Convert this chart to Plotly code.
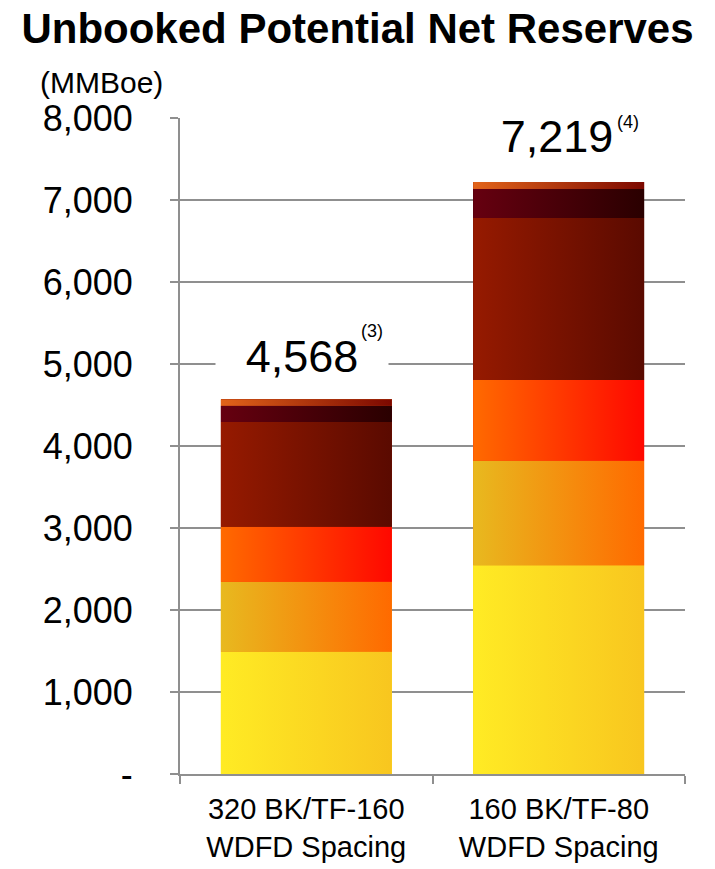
import plotly.graph_objects as go

# ---------------- data ----------------
categories = ["320 BK/TF-160<br>WDFD Spacing", "160 BK/TF-80<br>WDFD Spacing"]
seg1 = [1491, 2544]
seg2 = [854, 1277]
seg3 = [671, 984]
seg4 = [1277, 1975]
seg5 = [198, 354]
seg6 = [77, 85]
totals = [4568, 7219]
footnotes = ["(3)", "(4)"]
y_tick_values = [0, 1000, 2000, 3000, 4000, 5000, 6000, 7000, 8000]
y_tick_labels = ["-", "1,000", "2,000", "3,000", "4,000", "5,000", "6,000", "7,000", "8,000"]

# ---------------- style ----------------
segments = [seg1, seg2, seg3, seg4, seg5, seg6]
gradients = [
    ("#FFEB24", "#F8C61F"),
    ("#E8B91F", "#FF6A00"),
    ("#FF6A00", "#FF0800"),
    ("#961A00", "#5A0A00"),
    ("#660010", "#2A0000"),
    ("#E2641A", "#7C0800"),
]
mid_colors = ["#FBD922", "#F3920F", "#FF3900", "#781200", "#480008", "#AF360D"]
bar_width = 0.677
FONT = "Arial, Liberation Sans, sans-serif"
GRID = "#8f8f8f"

total_yshift = [43, 46]
total_xshift = [-4, -2]
total_box_w = [170, 240]
note_xshift = [53, 56]
note_yshift = [68, 60]

fig = go.Figure()

# stacked bars (data marks)
for seg, col in zip(segments, mid_colors):
    fig.add_trace(go.Bar(
        x=categories, y=seg, width=bar_width,
        marker=dict(color=col, line=dict(width=0)),
        showlegend=False, hoverinfo="y",
    ))

# gradient skin over the same bars, computed from the same arrays
bases = [0] * len(categories)
for seg, (c0, c1) in zip(segments, gradients):
    for i in range(len(categories)):
        b = bases[i]
        t = b + seg[i]
        x0 = i - bar_width / 2
        x1 = i + bar_width / 2
        fig.add_trace(go.Scatter(
            x=[x0, x1, x1, x0, x0], y=[b, b, t, t, b],
            xaxis="x2", mode="lines", fill="toself",
            fillgradient=dict(type="horizontal", colorscale=[[0, c0], [1, c1]]),
            line=dict(width=0, color="rgba(0,0,0,0)"),
            showlegend=False, hoverinfo="skip",
        ))
        bases[i] = t

# total labels and footnote marks
annotations = []
for i, (tot, fn) in enumerate(zip(totals, footnotes)):
    annotations.append(dict(
        x=i, y=tot, xref="x2", yref="y",
        text=f"{tot:,}",
        showarrow=False, xanchor="center", yanchor="middle",
        yshift=total_yshift[i], xshift=total_xshift[i],
        width=total_box_w[i], bgcolor="white",
        font=dict(family=FONT, size=45, color="black"),
    ))
    annotations.append(dict(
        x=i, y=tot, xref="x2", yref="y",
        text=fn,
        showarrow=False, xanchor="left", yanchor="middle",
        yshift=note_yshift[i], xshift=note_xshift[i],
        font=dict(family=FONT, size=18, color="black"),
    ))

annotations.append(dict(
    x=(101 - 180) / 505, y=(774 - 83) / 656, xref="paper", yref="paper",
    text="(MMBoe)", showarrow=False, xanchor="center", yanchor="middle",
    font=dict(family=FONT, size=30, color="black"),
))

fig.update_layout(
    width=715, height=869,
    margin=dict(l=180, r=30, t=118, b=95, autoexpand=False),
    paper_bgcolor="white", plot_bgcolor="white",
    barmode="stack", bargap=0.32,
    title=dict(
        text="<b>Unbooked Potential Net Reserves</b>",
        x=0.5, xref="container", xanchor="center",
        y=1 - 28 / 869, yref="container", yanchor="middle",
        font=dict(family=FONT, size=42, color="black"),
        automargin=False,
    ),
    xaxis=dict(
        type="category", range=[-0.5, 1.5], automargin=False,
        showline=True, linecolor=GRID, linewidth=2,
        ticks="outside", tickson="boundaries", ticklen=8, tickcolor=GRID, tickwidth=2,
        showgrid=False,
        tickfont=dict(family=FONT, size=29, color="black"),
        ticklabelstandoff=8,
    ),
    xaxis2=dict(overlaying="x", range=[-0.5, 1.5], visible=False, fixedrange=True),
    yaxis=dict(
        range=[0, 8000], tickvals=y_tick_values, ticktext=y_tick_labels,
        automargin=False,
        showline=True, linecolor=GRID, linewidth=2,
        ticks="outside", ticklen=8, tickcolor=GRID, tickwidth=2,
        showgrid=True, gridcolor=GRID, gridwidth=2,
        zeroline=False,
        tickfont=dict(family=FONT, size=36, color="black"),
        ticklabelstandoff=30,
    ),
    annotations=annotations,
    showlegend=False,
)

fig.write_html("out.html")
